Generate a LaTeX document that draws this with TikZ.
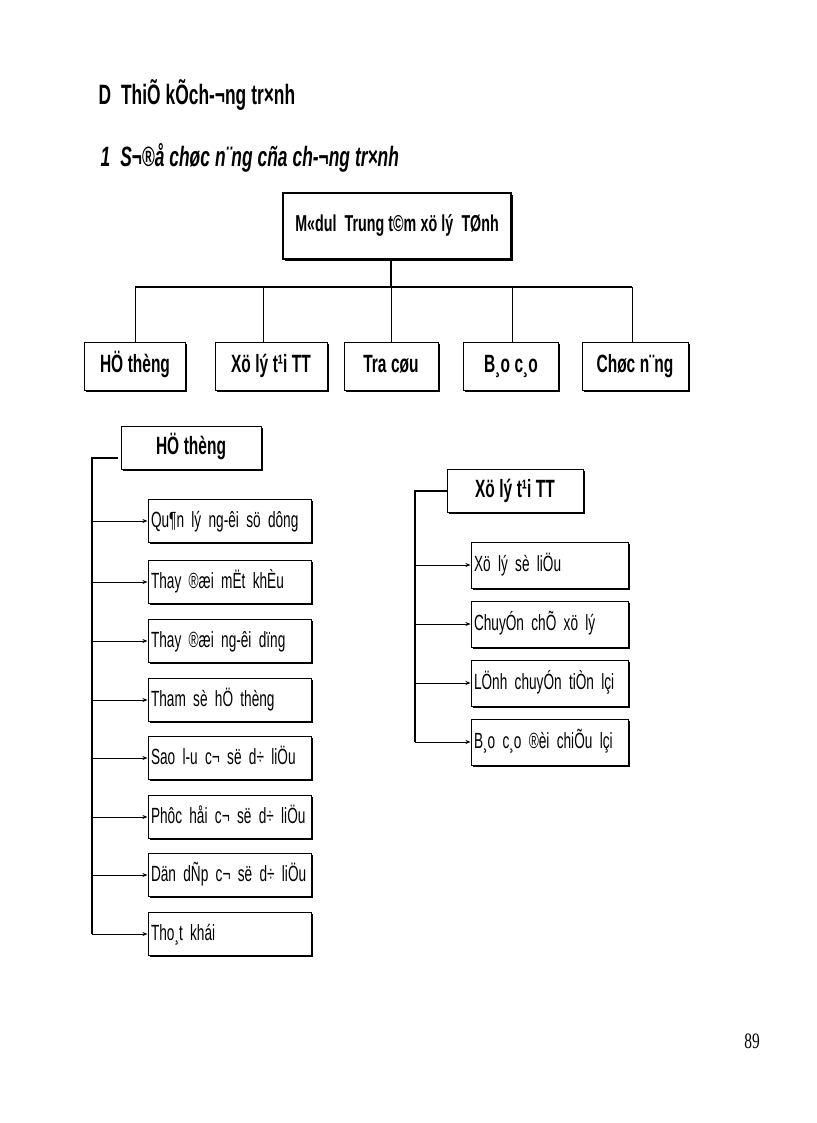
\documentclass[tikz,border=0pt]{standalone}
\usepackage{fontspec}
\setmainfont{Liberation Sans}
\newfontfamily\nar[FakeStretch=0.62]{Liberation Sans}
\newfontfamily\narser[FakeStretch=0.7]{Liberation Serif}
\newcommand{\tightsp}{\spaceskip=0.18em plus 0.05em\relax}
\usetikzlibrary{shadows,arrows.meta}
\begin{document}
\begin{tikzpicture}[x=1pt,y=-1pt,
  bx/.style={draw,line width=1pt,fill=white,drop shadow={shadow xshift=1.8pt,shadow yshift=-1.8pt,fill=black,opacity=1},inner sep=0pt,text height=17pt,text depth=5pt,font=\nar\bfseries\fontsize{25}{27}\selectfont\tightsp},
  it/.style={bx,minimum width=163pt,minimum height=43pt,text width=157pt,align=left},
  ir/.style={bx,minimum width=157pt,minimum height=46pt,text width=151pt,align=left},
  ln/.style={line width=1.3pt},
  ar/.style={line width=1pt,-{Stealth[length=5pt,width=4pt]}}]
\useasboundingbox (0,0) rectangle (816,1123);
\node[anchor=west,font=\nar\bfseries\fontsize{28}{30}\selectfont\tightsp] (t1) at (95,95) {D\ \ ThiÕ kÕch-¬ng tr×nh};
\node[anchor=west,font=\nar\bfseries\itshape\fontsize{28}{30}\selectfont\tightsp] (t2) at (97,158) {1\ \ S¬®å chøc n¨ng cña ch-¬ng tr×nh};
\node[bx,line width=1.8pt,minimum width=228pt,minimum height=66pt,font=\nar\bfseries\fontsize{23}{25}\selectfont\tightsp] (top) at (397,226) {M«dul\ \ Trung t©m xö lý\ \ TØnh};
\node[bx,minimum width=101pt,minimum height=48pt] (b1) at (135,366) {HÖ thèng};
\node[bx,minimum width=112pt,minimum height=48pt] (b2) at (271,366) {Xö lý t¹i TT};
\node[bx,minimum width=94pt,minimum height=48pt] (b3) at (391,366) {Tra cøu};
\node[bx,minimum width=95pt,minimum height=48pt] (b4) at (511,366) {B¸o c¸o};
\node[bx,minimum width=106pt,minimum height=48pt] (b5) at (635,366) {Chøc n¨ng};
\coordinate (j) at (391,287);
\draw[ln] (top.south -| j) -- (j);
\draw[ln] (135,287) -- (632,287);
\foreach \x/\b in {135/b1,263/b2,391/b3,512/b4,632/b5}
  \draw[line width=1pt] (\x,287) -- (\x,342);
% left group
\node[bx,minimum width=140pt,minimum height=43pt] (h1) at (191,448) {HÖ thèng};
\coordinate (lt) at (92,458);
\draw[ln] (118,458) -- (lt) -- (92,934);
\foreach \y/\n/\t in {521/l1/Qu¶n lý ng-êi sö dông,582/l2/Thay ®æi mËt khÈu,641/l3/Thay ®æi ng-êi dïng,700/l4/Tham sè hÖ thèng,758/l5/Sao l-u c¬ së d÷ liÖu,817/l6/Phôc håi c¬ së d÷ liÖu,875/l7/Dän dÑp c¬ së d÷ liÖu,934/l8/Tho¸t khái}{
  \node[it,font=\nar\fontsize{22}{24}\selectfont\tightsp] (\n) at (229.5,\y) {\t};
  \draw[ar] (92,\y) -- (\n.west);}
% right group
\node[bx,minimum width=136pt,minimum height=43pt] (h2) at (515,491) {Xö lý t¹i TT};
\draw[ln] (h2.west) -- (415,491) -- (415,742);
\foreach \y/\n/\t in {565/r1/Xö lý sè liÖu,624/r2/ChuyÓn chÕ xö lý,683/r3/LÖnh chuyÓn tiÒn lçi,742/r4/B¸o c¸o ®èi chiÕu lçi}{
  \node[ir,font=\nar\fontsize{22}{24}\selectfont\tightsp] (\n) at (549.5,\y) {\t};
  \draw[ar] (415,\y) -- (\n.west);}
\node[font=\narser\fontsize{22}{24}\selectfont] (pg) at (752,1041) {89};
\end{tikzpicture}
\end{document}
